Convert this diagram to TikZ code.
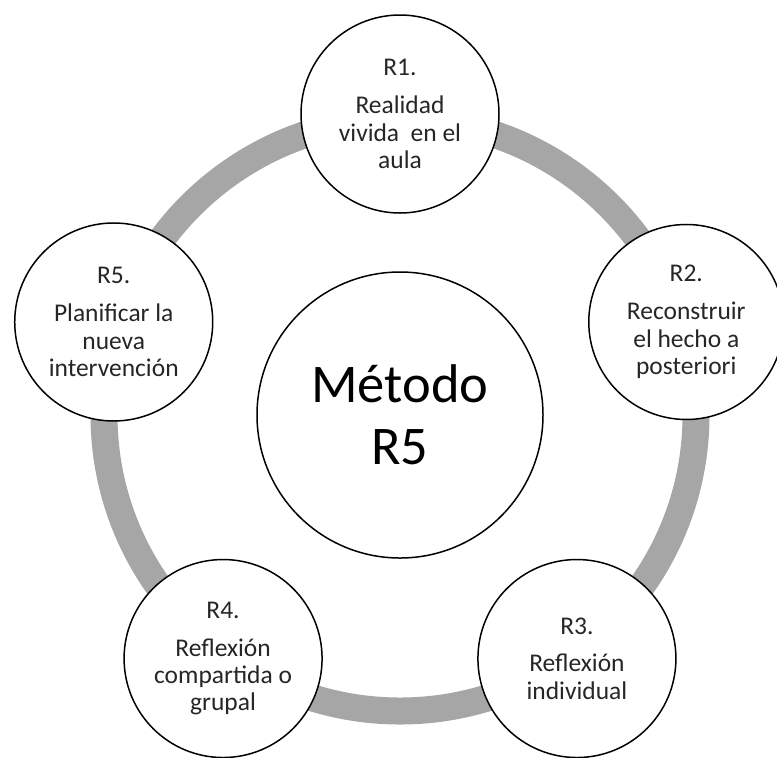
\documentclass[tikz,border=0pt]{standalone}
\usepackage{fontspec}
\setmainfont{Carlito}
\usetikzlibrary{positioning,calc}
\definecolor{ringgray}{HTML}{A6A6A6}

\begin{document}
\begin{tikzpicture}[stage/.style={circle,draw,line width=0.85pt,fill=white,minimum size=3.96cm,inner sep=0pt,align=center,font=\fontsize{14.5}{15.6}\selectfont,text=black!85},hub/.style={circle,draw,line width=0.85pt,fill=white,minimum size=5.72cm,inner sep=0pt,align=center,font=\fontsize{31}{35}\selectfont}]
\useasboundingbox (-8,-6.84) rectangle (7.54,8.3);
\draw[ringgray,line width=0.54cm] (0,0) circle (5.92cm);
\node (m) at (0,0)[hub] {Método\\R5};
\node (r1) at (90:6.02)[stage] {R1.\\[6pt]Realidad\\vivida~ en el\\aula};
\node (r2) at (18:6.02)[stage,minimum size=3.9cm] {R2.\\[6pt]Reconstruir\\el hecho a\\posteriori};
\node (r3) at (-54:6.02)[stage] {R3.\\[6pt]Reflexión\\individual};
\node (r4) at (-126:6.02)[stage] {R4.\\[6pt]Reflexión\\compartida o\\grupal};
\node (r5) at (162:6.02)[stage] {R5.\\[6pt]Planificar la\\nueva\\intervención};
\end{tikzpicture}
\end{document}
